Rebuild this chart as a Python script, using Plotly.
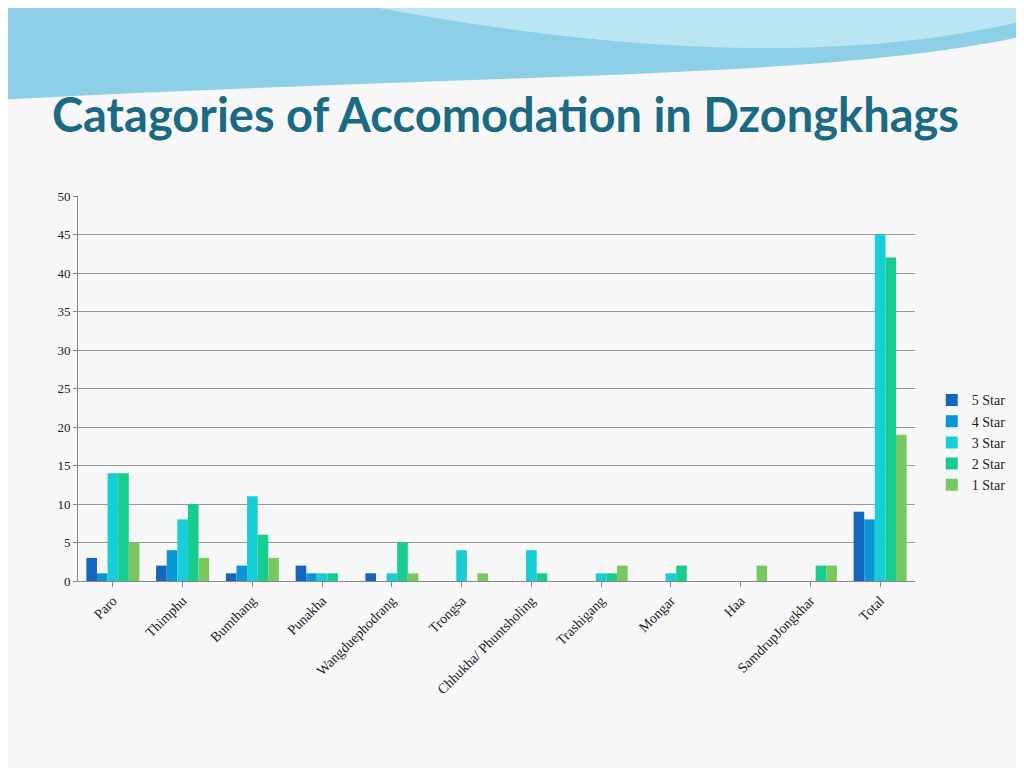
import plotly.graph_objects as go

districts = ["Paro", "Thimphu", "Bumthang", "Punakha", "Wangduephodrang", "Trongsa",
             "Chhukha/ Phuntsholing", "Trashigang", "Mongar", "Haa", "SamdrupJongkhar", "Total"]
star5 = [3, 2, 1, 2, 1, 0, 0, 0, 0, 0, 0, 9]
star4 = [1, 4, 2, 1, 0, 0, 0, 0, 0, 0, 0, 8]
star3 = [14, 8, 11, 1, 1, 4, 4, 1, 1, 0, 0, 45]
star2 = [14, 10, 6, 1, 5, 0, 1, 1, 2, 0, 2, 42]
star1 = [5, 3, 3, 0, 1, 1, 0, 2, 0, 2, 2, 19]

series = [("5 Star", star5, "#1565c0"), ("4 Star", star4, "#0a96d6"),
          ("3 Star", star3, "#16cdd8"), ("2 Star", star2, "#16cc8e"),
          ("1 Star", star1, "#78c860")]

fig = go.Figure()
for name, vals, col in series:
    fig.add_trace(go.Bar(x=districts, y=vals, name=name, marker_color=col, marker_line_width=0))

fig.update_layout(
    width=1024, height=768,
    paper_bgcolor="#f7f7f7", plot_bgcolor="#f7f7f7",
    margin=dict(l=70, r=117, t=188, b=195),
    bargap=0.24, bargroupgap=0,
    font=dict(family="Liberation Serif", size=14, color="#222"),
    legend=dict(x=1.02, y=0.36, yanchor="middle", xanchor="left",
                font=dict(size=14), bgcolor="rgba(0,0,0,0)", tracegroupgap=2),
    title=dict(text="<b>Catagories of Accomodation in Dzongkhags</b>", x=44/1024, xanchor="left",
               y=1-108/768, yanchor="middle",
               font=dict(family="Lato", size=47, color="#1a6a84")),
)
fig.update_xaxes(tickangle=-45, showline=True, linecolor="#888", ticks="outside",
                 ticklen=5, tickcolor="#888", tickfont=dict(size=14))
fig.update_yaxes(range=[0, 50], dtick=5, showline=True, linecolor="#888",
                 gridcolor="#999", gridwidth=1, ticks="outside", ticklen=4,
                 tickcolor="#888", tickfont=dict(size=13), zeroline=False)

# decorative wave band at top
fig.add_shape(type="path", xref="paper", yref="paper",
              path="M -0.094 1.514 L 1.14 1.514 L 1.14 1.42 C 0.9 1.3 0.5 1.32 -0.094 1.25 Z",
              fillcolor="#8ccfe6", line_width=0, layer="below")
fig.add_shape(type="path", xref="paper", yref="paper",
              path="M 0.3 1.514 L 1.14 1.514 L 1.14 1.46 C 0.9 1.33 0.6 1.38 0.3 1.514 Z",
              fillcolor="#b9e6f2", line_width=0, layer="below")

fig.write_html("out.html")
